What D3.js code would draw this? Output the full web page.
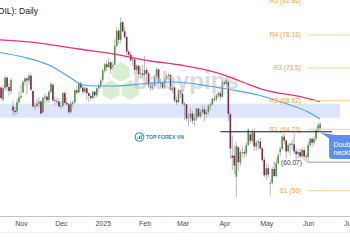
<!DOCTYPE html>
<html><head><meta charset="utf-8">
<script src="https://cdn.jsdelivr.net/npm/d3@7"></script>
<style>html,body{margin:0;padding:0;background:#fff;overflow:hidden}svg{display:block;font-family:"Liberation Sans",Arial,sans-serif}</style>
</head><body><svg id="c" width="350" height="250"></svg>
<script>
// ---------- DATA ----------
const holidays = ["2024-11-28","2024-12-25","2025-01-01","2025-01-20","2025-02-17","2025-04-18","2025-05-26","2025-06-19"];
const dates = [
 "2024-10-16","2024-10-17","2024-10-18","2024-10-21","2024-10-22","2024-10-23","2024-10-24","2024-10-25","2024-10-28","2024-10-29","2024-10-30","2024-10-31",
 "2024-11-01","2024-11-04","2024-11-05","2024-11-06","2024-11-07","2024-11-08","2024-11-11","2024-11-12","2024-11-13","2024-11-14","2024-11-15","2024-11-18","2024-11-19","2024-11-20","2024-11-21","2024-11-22","2024-11-25","2024-11-26","2024-11-27","2024-11-29",
 "2024-12-02","2024-12-03","2024-12-04","2024-12-05","2024-12-06","2024-12-09","2024-12-10","2024-12-11","2024-12-12","2024-12-13","2024-12-16","2024-12-17","2024-12-18","2024-12-19","2024-12-20","2024-12-23","2024-12-24","2024-12-26","2024-12-27","2024-12-30","2024-12-31",
 "2025-01-02","2025-01-03","2025-01-06","2025-01-07","2025-01-08","2025-01-09","2025-01-10","2025-01-13","2025-01-14","2025-01-15","2025-01-16","2025-01-17","2025-01-21","2025-01-22","2025-01-23","2025-01-24","2025-01-27","2025-01-28","2025-01-29","2025-01-30","2025-01-31",
 "2025-02-03","2025-02-04","2025-02-05","2025-02-06","2025-02-07","2025-02-10","2025-02-11","2025-02-12","2025-02-13","2025-02-14","2025-02-18","2025-02-19","2025-02-20","2025-02-21","2025-02-24","2025-02-25","2025-02-26","2025-02-27","2025-02-28",
 "2025-03-03","2025-03-04","2025-03-05","2025-03-06","2025-03-07","2025-03-10","2025-03-11","2025-03-12","2025-03-13","2025-03-14","2025-03-17","2025-03-18","2025-03-19","2025-03-20","2025-03-21","2025-03-24","2025-03-25","2025-03-26","2025-03-27","2025-03-28","2025-03-31",
 "2025-04-01","2025-04-02","2025-04-03","2025-04-04","2025-04-07","2025-04-08","2025-04-09","2025-04-10","2025-04-11","2025-04-14","2025-04-15","2025-04-16","2025-04-17","2025-04-21","2025-04-22","2025-04-23","2025-04-24","2025-04-25","2025-04-28","2025-04-29","2025-04-30",
 "2025-05-01","2025-05-02","2025-05-05","2025-05-06","2025-05-07","2025-05-08","2025-05-09","2025-05-12","2025-05-13","2025-05-14","2025-05-15","2025-05-16","2025-05-19","2025-05-20","2025-05-21","2025-05-22","2025-05-23","2025-05-27","2025-05-28","2025-05-29","2025-05-30",
 "2025-06-02","2025-06-03","2025-06-04","2025-06-05","2025-06-06","2025-06-09","2025-06-10"];
const opens = [
 70.6,70.4,70.7,69.0,70.6,72.1,70.8,70.2,68.0,67.4,67.3,68.6,
 69.3,70.0,71.5,72.0,71.7,72.4,70.2,68.0,68.1,68.4,68.7,67.2,69.2,69.4,68.9,70.1,71.1,68.9,68.8,68.7,
 68.0,68.1,69.9,68.5,68.3,67.2,68.4,68.6,70.3,70.0,71.3,70.7,70.1,70.6,69.9,69.5,69.2,70.1,69.6,70.6,71.0,
 71.8,73.1,74.0,73.6,74.3,73.3,73.9,76.6,78.8,77.5,80.0,78.7,77.9,75.8,75.4,74.6,74.7,73.2,73.8,72.6,72.7,
 72.5,73.2,72.7,71.0,70.6,71.0,72.3,73.3,71.4,71.3,70.7,71.9,72.3,72.5,70.4,70.7,68.9,68.6,70.3,
 69.8,68.4,68.3,66.3,66.4,67.0,66.0,66.3,67.7,66.6,67.2,67.6,66.9,67.2,68.1,68.3,69.1,69.0,69.6,69.9,69.4,
 71.5,71.2,71.5,66.9,61.0,61.0,58.0,62.2,60.0,61.5,61.5,61.3,62.5,64.0,63.1,64.3,62.3,62.8,63.0,62.05,60.4,
 58.2,59.2,57.1,57.1,59.1,58.1,59.9,61.5,61.95,63.7,63.15,61.6,62.5,62.7,62.6,61.6,61.2,61.5,60.9,61.8,60.9,
 60.8,62.5,63.4,62.85,63.4,64.6,64.9];
const highs = [
 71.3,71.2,70.9,71.0,72.3,72.3,71.3,72.0,68.8,68.0,69.1,70.2,
 71.1,71.8,72.2,72.1,72.8,72.6,70.3,68.7,69.1,69.3,68.9,69.4,69.9,69.6,70.3,71.5,71.3,69.4,69.3,69.2,
 68.8,70.1,70.2,69.3,68.5,68.8,68.9,70.5,70.9,71.4,71.5,70.9,71.0,70.8,70.0,69.8,70.2,70.2,70.7,71.3,72.0,
 73.4,74.2,74.6,74.9,74.4,74.3,77.6,79.3,79.0,80.7,80.2,79.3,78.0,76.1,75.8,75.3,74.8,74.0,73.9,73.6,73.9,
 75.2,73.5,72.9,71.5,71.3,72.5,73.6,73.4,72.0,71.6,72.1,72.6,72.8,72.6,71.0,70.9,69.4,70.5,70.4,
 70.5,68.6,68.4,67.0,67.8,67.4,66.9,67.8,67.8,67.6,68.2,68.0,67.5,68.3,68.6,69.3,69.7,69.8,70.2,70.2,71.6,
 71.9,72.2,71.8,67.2,63.9,62.5,62.9,62.3,61.9,62.3,61.9,62.9,64.9,64.3,64.8,64.9,63.2,63.3,63.5,62.3,60.8,
 59.9,59.8,57.6,59.4,60.2,60.6,61.4,62.3,63.9,64.2,63.3,62.7,62.8,63.3,64.2,62.1,61.9,62.0,62.1,62.2,61.4,
 63.0,63.5,63.6,63.8,64.9,65.7,65.8];
const lows = [
 70.0,69.9,68.9,68.7,70.3,70.2,69.5,69.8,66.7,66.7,66.9,68.4,
 69.1,69.9,71.0,69.7,71.1,70.2,67.9,67.5,67.8,67.9,66.9,67.0,68.4,68.5,68.5,69.9,68.6,68.2,68.3,67.9,
 67.6,67.9,68.3,68.1,66.9,67.0,67.9,68.4,69.7,69.8,70.3,69.7,69.8,68.9,68.6,68.8,69.0,69.2,69.3,70.0,70.6,
 71.5,72.8,73.0,73.5,72.6,73.0,73.8,76.5,76.9,77.0,78.6,77.6,75.3,75.1,74.4,73.8,72.6,72.8,72.1,72.0,72.2,
 72.0,71.4,70.6,70.2,70.3,70.9,72.0,71.2,70.7,70.5,70.6,71.6,71.8,70.2,69.9,68.6,68.2,68.5,69.2,
 68.1,66.1,65.9,65.2,65.8,65.5,65.2,65.9,66.4,66.3,67.0,65.9,66.4,66.9,67.5,68.1,68.7,68.7,69.2,68.9,69.2,
 70.9,70.8,65.9,60.6,58.95,58.4,55.1,58.8,59.5,60.8,60.6,60.9,62.4,62.6,62.7,61.7,61.7,61.9,61.8,60.1,57.9,
 57.5,57.8,55.3,56.9,57.9,57.9,59.7,60.9,61.8,62.6,60.6,61.4,61.0,61.9,61.2,60.3,60.6,60.5,60.6,60.3,60.1,
 60.0,62.2,62.2,62.5,63.1,64.4,64.5];
const closes = [
 70.4,70.7,69.2,70.6,72.1,70.8,70.2,71.8,67.4,67.2,68.6,69.3,
 69.5,71.5,72.0,71.7,72.4,70.4,68.0,68.1,68.4,68.7,67.0,69.2,69.4,68.9,70.1,71.2,68.9,68.8,68.7,68.0,
 68.1,69.9,68.5,68.3,67.2,68.4,68.6,70.3,70.0,71.3,70.7,70.1,70.6,69.9,69.5,69.2,70.1,69.6,70.6,71.0,71.7,
 73.1,74.0,73.6,74.3,73.3,73.9,76.6,78.8,77.5,80.0,78.7,77.9,75.8,75.4,74.6,74.7,73.2,73.8,72.6,72.7,72.5,
 73.2,72.7,71.0,70.6,71.0,72.3,73.3,71.4,71.3,70.7,71.9,72.3,72.5,70.4,70.7,68.9,68.6,70.3,69.8,
 68.4,68.3,66.3,66.4,67.0,66.0,66.3,67.7,66.6,67.2,67.6,66.9,67.2,68.1,68.3,69.1,69.0,69.6,69.9,69.4,71.5,
 71.2,71.7,66.95,62.0,60.7,59.6,62.35,60.07,61.5,61.5,61.3,62.5,64.7,63.1,64.3,62.3,62.8,63.0,62.05,60.4,58.2,
 59.2,58.3,57.1,59.1,58.1,59.9,61.0,61.95,63.7,63.15,61.6,62.5,62.7,62.6,61.6,61.2,61.5,60.9,61.8,60.9,60.8,
 62.5,63.4,62.85,63.4,64.6,65.3,65.5];

const maSlowDates = ["2024-10-16","2024-11-14","2024-12-13","2025-01-09","2025-02-06","2025-02-28","2025-03-27","2025-04-14","2025-04-30","2025-05-28","2025-06-10"];
const maSlowVals  = [77.5,77.04,76.19,75.48,74.48,73.91,72.77,71.49,70.35,69.35,68.7];
const maFastDates = ["2024-10-16","2024-11-04","2024-11-21","2024-12-09","2024-12-17","2024-12-30","2025-01-13","2025-01-30","2025-02-25","2025-03-20","2025-04-07","2025-04-25","2025-05-14","2025-06-02","2025-06-10"];
const maFastVals  = [75.76,75.05,73.91,72.06,71.06,70.92,70.92,71.2,71.49,70.92,70.35,69.64,68.5,67.21,66.22];

const pivotNames  = ["R4","R3","R2","R1","S1"];
const pivotValues = [78.18,73.5,68.82,64.75,56];
const topPivotName = "R5", topPivotValue = 82.86;
const zoneBounds = [66.4, 68.4];
const necklineLevel = 64.4;
const swingLow = 60.07;
const monthLabels = ["Nov","Dec","2025","Feb","Mar","Apr","May","Jun","Jul"];
const monthKeys   = ["2024-11","2024-12","2025-01","2025-02","2025-03","2025-04","2025-05","2025-06","2025-07"];

// ---------- CALENDAR (trading days) ----------
const fmt = d3.utcFormat("%Y-%m-%d");
const calendar = d3.utcDays(new Date(Date.UTC(2024,9,16)), new Date(Date.UTC(2025,6,2)))
  .filter(d => d.getUTCDay() !== 0 && d.getUTCDay() !== 6)
  .map(fmt).filter(s => !holidays.includes(s));

const W = 350, H = 250;
const x = d3.scalePoint().domain(calendar).range([-2.93, 348]);
const y = d3.scaleLinear().domain([55, 83]).range([197.75, 1.19]);

const svg = d3.select("#c");
const candles = dates.map((d,i)=>({d, o:opens[i], h:highs[i], l:lows[i], c:closes[i]}));

// zone
svg.append("rect")
  .attr("x", x(calendar[0]) - 2).attr("width", x("2025-06-25") - x(calendar[0]) + 2)
  .attr("y", y(zoneBounds[1])).attr("height", y(zoneBounds[0]) - y(zoneBounds[1]))
  .attr("fill", "#dde5fb");

// candles
const cg = svg.append("g");
cg.selectAll("line").data(candles).join("line")
  .attr("x1", d=>x(d.d)).attr("x2", d=>x(d.d))
  .attr("y1", d=>y(d.h)).attr("y2", d=>y(d.l))
  .attr("stroke", "#a4a4a4").attr("stroke-width", 0.8);
cg.selectAll("rect").data(candles).join("rect")
  .attr("x", d=>x(d.d) - 0.8).attr("width", 1.6)
  .attr("y", d=>y(Math.max(d.o,d.c)))
  .attr("height", d=>Math.max(0.8, Math.abs(y(d.o)-y(d.c))))
  .attr("fill", d=> d.c >= d.o ? "#4f964a" : "#85234f");

// watermark: babypips
const hex = (cx, cy, r) => d3.range(6).map(k => {
  const a = Math.PI/180*(60*k - 90);
  return [cx + r*Math.cos(a), cy + r*Math.sin(a)];
});
const wm = svg.append("g").attr("opacity", 0.78);
[[121,72],[111,90],[130.5,90]].forEach(([cx,cy]) => {
  wm.append("polygon").attr("points", hex(cx,cy,10).join(" "))
    .attr("fill", "#cdeac4").attr("stroke", "#e6f5e1").attr("stroke-width", 0.8);
});
svg.append("text").attr("x", 133).attr("y", 89)
  .attr("font-size", 23).attr("font-weight", "bold")
  .attr("textLength", 106).attr("lengthAdjust", "spacingAndGlyphs")
  .attr("fill", "#c4c4c4").attr("opacity", 0.6).text("babypips");

// TOP FOREX VN logo
const logo = svg.append("g");
logo.append("circle").attr("cx", 139.5).attr("cy", 137).attr("r", 4.3)
  .attr("fill", "none").attr("stroke", "#3d8bd6").attr("stroke-width", 1.1);
[[-1.8,1.5],[0,3],[1.8,4.5]].forEach(([dx,hgt]) => {
  logo.append("rect").attr("x", 139.5+dx-0.6).attr("y", 139-hgt).attr("width", 1.2).attr("height", hgt).attr("fill", "#3d8bd6");
});
logo.append("text").attr("x", 146).attr("y", 139.3).attr("font-size", 5.6).attr("font-weight", "bold")
  .attr("textLength", 38).attr("lengthAdjust", "spacingAndGlyphs")
  .attr("fill", "#3283cf").text("TOP FOREX VN");

// moving averages
const line = d3.line().x(d=>x(d[0])).y(d=>y(d[1])).curve(d3.curveMonotoneX);
svg.append("path").attr("d", line(d3.zip(maSlowDates, maSlowVals)))
  .attr("fill","none").attr("stroke","#ec2f7c").attr("stroke-width",1.3);
svg.append("path").attr("d", line(d3.zip(maFastDates, maFastVals)))
  .attr("fill","none").attr("stroke","#4ea0f2").attr("stroke-width",1.2);

// pivots
const pivStart = x("2025-06-02");
pivotNames.forEach((n,i) => {
  svg.append("line").attr("x1", pivStart).attr("x2", W)
    .attr("y1", y(pivotValues[i])).attr("y2", y(pivotValues[i]))
    .attr("stroke", "#ffcf8f").attr("stroke-width", 1);
  svg.append("text").attr("x", 301).attr("y", y(pivotValues[i]))
    .attr("dy", "0.35em").attr("text-anchor", "end")
    .attr("font-size", 6.6).attr("fill", "#f5a43c")
    .text(`${n} (${pivotValues[i]})`);
});
svg.append("text").attr("x", 301).attr("y", y(topPivotValue) - 1)
  .attr("dy", "0.35em").attr("text-anchor", "end")
  .attr("font-size", 6.6).attr("fill", "#f5a43c")
  .text(`${topPivotName} (${topPivotValue})`);

// swing low marker
svg.append("line").attr("x1", pivStart).attr("x2", W)
  .attr("y1", y(swingLow)).attr("y2", y(swingLow))
  .attr("stroke", "#9a9a9a").attr("stroke-width", 1);
svg.append("text").attr("x", 302).attr("y", y(swingLow) + 1)
  .attr("dy", "0.35em").attr("text-anchor", "end")
  .attr("font-size", 6.6).attr("fill", "#333").text(`(${swingLow})`);

// neckline
svg.append("line").attr("x1", x("2025-03-28")).attr("x2", x("2025-06-18"))
  .attr("y1", y(necklineLevel)).attr("y2", y(necklineLevel))
  .attr("stroke", "#131722").attr("stroke-width", 1.2);

// callout
const bx = x("2025-06-16") + 1;
svg.append("polygon")
  .attr("points", [[x("2025-06-10")+0.5, y(necklineLevel)+1],[bx+10, 135.5],[bx+4, 141]].join(" "))
  .attr("fill", "#5f8ef2");
svg.append("rect").attr("x", bx).attr("y", 135).attr("width", 40).attr("height", 24).attr("rx", 3)
  .attr("fill", "#5f8ef2");
svg.append("text").attr("x", bx+4.5).attr("y", 146.5).attr("font-size", 7).attr("fill", "#fff").text("Double bottom");
svg.append("text").attr("x", bx+4.5).attr("y", 155).attr("font-size", 7).attr("fill", "#fff").text("neckline");

// title
svg.append("text").attr("x", 38).attr("y", 13.5).attr("text-anchor", "end")
  .attr("font-size", 8.5).attr("fill", "#131722").text("Crude Oil (USOIL): Daily");

// time axis
const tickVals = monthKeys.map(k => calendar.find(s => s.startsWith(k)));
const axis = d3.axisBottom(x).tickValues(tickVals)
  .tickFormat((d,i) => monthLabels[i]).tickSize(0).tickPadding(5);
const ag = svg.append("g").attr("transform", "translate(0,216)").call(axis);
ag.select(".domain").remove();
ag.selectAll("text").attr("font-size", 7).attr("fill", "#4a4a4a")
  .attr("font-family", '"Liberation Sans",Arial,sans-serif');
svg.append("line").attr("x1",0).attr("x2",W).attr("y1",216.5).attr("y2",216.5).attr("stroke","#c4c4c4");
svg.append("line").attr("x1",0).attr("x2",W).attr("y1",232.5).attr("y2",232.5).attr("stroke","#efefef");
</script></body></html>
